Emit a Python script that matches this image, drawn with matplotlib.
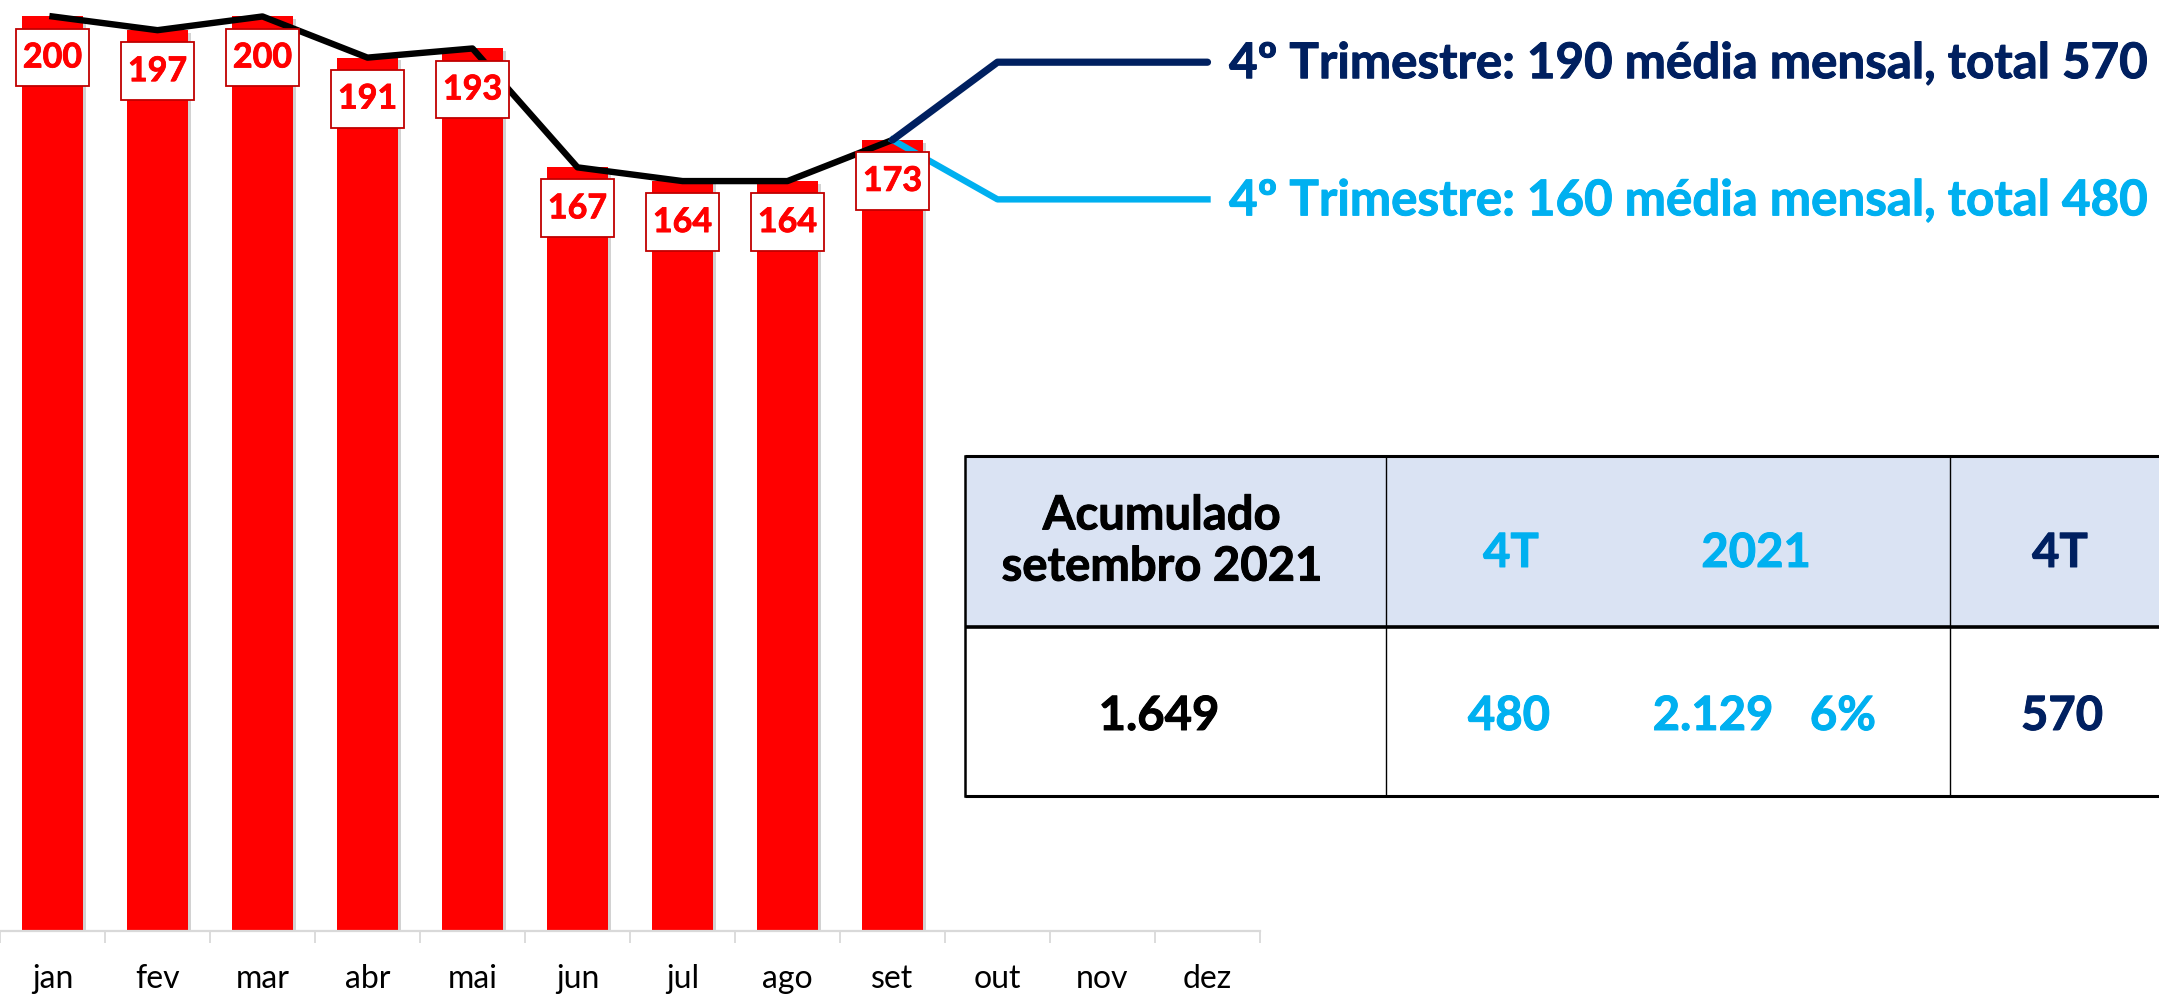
import numpy as np
import matplotlib
matplotlib.use("Agg")
import matplotlib.pyplot as plt
import matplotlib.patheffects as pe
from matplotlib.patches import Rectangle
from matplotlib.path import Path

plt.rcParams['font.family'] = ['Lato', 'DejaVu Sans']

months = ['jan', 'fev', 'mar', 'abr', 'mai', 'jun', 'jul', 'ago', 'set', 'out', 'nov', 'dez']
monthly = [200, 197, 200, 191, 193, 167, 164, 164, 173]
q4_months = ['set', 'out', 'nov', 'dez']
q4_high = [173, 190, 190, 190]
q4_low = [173, 160, 160, 160]
high_label = '4º Trimestre: 190 média mensal, total 570'
low_label = '4º Trimestre: 160 média mensal, total 480'

table_header = ['Acumulado\nsetembro 2021', '4T', '2021', '4T']
table_values = ['1.649', '480', '2.129', '6%', '570']

RED = '#FF0000'
NAVY = '#002060'
SKY = '#00B0F0'


def heavy(c, w=0.7):
    # Lato bold is a bit lighter than the original slide font
    return [pe.withStroke(linewidth=w, foreground=c)]


def label_box(x0, y0, width, height, mutation_size):
    # square box, taller padding than wide like the slide labels
    px, py = 0.2 * mutation_size, 0.38 * mutation_size
    x0, y0 = x0 - px, y0 - py
    x1, y1 = x0 + width + 2 * px, y0 + height + 2 * py
    return Path([(x0, y0), (x1, y0), (x1, y1), (x0, y1), (x0, y0)], closed=True)


fig = plt.figure(figsize=(21.59, 10), dpi=100)

# chart area: left part of the slide, axis line at 931 px from top
ax = fig.add_axes([0, 0.069, 1260 / 2159, 0.931])
x = np.arange(len(monthly))
bars = ax.bar(x, monthly, width=0.58, color=RED, zorder=2)
for b in bars:
    b.set_path_effects([pe.SimplePatchShadow(offset=(2, -2), shadow_rgbFace='grey', alpha=0.35), pe.Normal()])

ax.plot(x, monthly, color='black', lw=4.6, zorder=3, clip_on=False)

qx = [months.index(m) for m in q4_months]
ax.plot(qx, q4_low, color=SKY, lw=4.6, zorder=3, clip_on=False)
ax.plot(qx, q4_high, color=NAVY, lw=5.2, zorder=4, clip_on=False, solid_capstyle='round')

for xi, v in zip(x, monthly):
    ax.annotate(str(v), (xi, v), xytext=(0, -29.5), textcoords='offset points',
                ha='center', va='center', fontsize=24.5, fontweight='bold', color=RED,
                bbox=dict(boxstyle=label_box, fc='white', ec='#C00000', lw=1.3),
                path_effects=heavy(RED, 0.6), zorder=5)

ax.annotate(high_label, (qx[-1], q4_high[-1]), xytext=(15.5, -11.5), textcoords='offset points',
            ha='left', va='baseline', fontsize=35.5, fontweight='bold', color=NAVY,
            path_effects=heavy(NAVY), annotation_clip=False)
ax.annotate(low_label, (qx[-1], q4_low[-1]), xytext=(15.5, -11.5), textcoords='offset points',
            ha='left', va='baseline', fontsize=35.5, fontweight='bold', color=SKY,
            path_effects=heavy(SKY), annotation_clip=False)

ax.set_xlim(-0.5, 11.5)
ax.set_ylim(0, 203.6)
for s in ['top', 'left', 'right']:
    ax.spines[s].set_visible(False)
ax.spines['bottom'].set_color('#D9D9D9')
ax.spines['bottom'].set_linewidth(1.6)
ax.set_yticks([])
ax.set_xticks(range(len(months)), months)
ax.set_xticks(np.arange(-0.5, 12, 1), minor=True)
ax.tick_params(axis='x', which='major', length=0, pad=24, labelsize=23)
ax.tick_params(axis='x', which='minor', length=8.6, width=1.3, color='#D9D9D9')
ax.patch.set_alpha(0)

# summary table, drawn in slide pixel coordinates
tax = fig.add_axes([0, 0, 1, 1], zorder=-1)
tax.set_xlim(0, 2159)
tax.set_ylim(1000, 0)
tax.axis('off')
left, col1, col2, right = 965, 1386, 1950, 2170
top, mid, bottom = 456, 627, 796
tax.add_patch(Rectangle((left, top), right - left, mid - top, fc='#DAE3F3', ec='none'))
tax.plot([left, right], [top, top], color='black', lw=2.2, solid_capstyle='butt')
tax.plot([left, right], [mid, mid], color='black', lw=2.6, solid_capstyle='butt')
tax.plot([left, right], [bottom, bottom], color='black', lw=2.2, solid_capstyle='butt')
tax.plot([left, left], [top, bottom], color='black', lw=1.8)
tax.plot([col1, col1], [top, bottom], color='black', lw=1.0)
tax.plot([col2, col2], [top, bottom], color='black', lw=1.0)

header_pos = [(1162, 541), (1511, 553), (1756, 553), (2060, 553)]
header_col = ['black', SKY, SKY, NAVY]
for (px, py), t, c in zip(header_pos, table_header, header_col):
    tax.text(px, py, t, ha='center', va='center', fontsize=34, fontweight='bold',
             color=c, linespacing=1.2, multialignment='center', path_effects=heavy(c))

value_pos = [(1159, 716), (1509, 716), (1713, 716), (1843, 716), (2062, 716)]
value_col = ['black', SKY, SKY, SKY, NAVY]
for (px, py), t, c in zip(value_pos, table_values, value_col):
    tax.text(px, py, t, ha='center', va='center', fontsize=34, fontweight='bold',
             color=c, path_effects=heavy(c))

fig.savefig('out.png', dpi=100)
